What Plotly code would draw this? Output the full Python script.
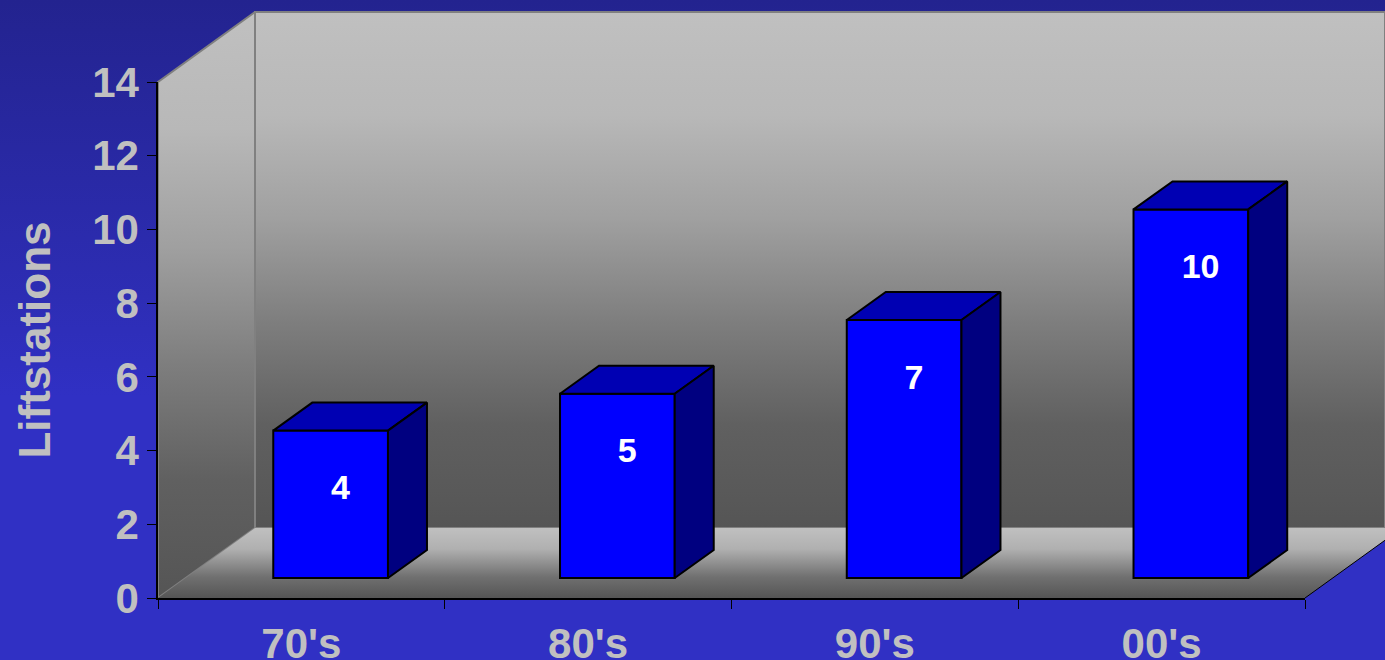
import plotly.graph_objects as go

# --- data ---
categories = ["70's", "80's", "90's", "00's"]
values = [4, 5, 7, 10]
y_ticks = [0, 2, 4, 6, 8, 10, 12, 14]
y_title = "Liftstations"

# --- page layout (pixels) ---
W, H = 1385, 660
PL, PR, PT, PB = 158, 1305, 82, 598     # plot box of the visible axes
UX = (PR - PL) / len(categories)        # px per category
UY = (PB - PT) / 14                     # px per value unit

def ux(px):
    return -0.5 + (px - PL) / UX

def uy(px):
    return (PB - px) / UY

XR = [ux(0), ux(W)]
YR = [uy(H), uy(0)]

# 3-D look in chart units
WALL_DX, WALL_DY = 97 / UX, 70 / UY
BAR_DX, BAR_DY = 39 / UX, 28 / UY
BAR_BASE = 20 / UY
BAR_OFFSET, BAR_WIDTH = -0.098, 0.40
LABEL_DX, LABEL_DOWN = 0.034, 60 / UY

FONT = "Liberation Sans"
GREY = "#C0C0C0"
LINE = "#000000"

WALL_SCALE = [[0, "#555555"], [0.2, "#606060"], [0.4, "#7E7E7E"], [0.6, "#A0A0A0"], [0.8, "#B8B8B8"], [1, "#C0C0C0"]]
FLOOR_SCALE = [[0, "#555555"], [0.3, "#707070"], [0.7, "#B0B0B0"], [1, "#C0C0C0"]]
PAGE_SCALE = [[0, "#3030C4"], [0.4, "#3030C4"], [0.55, "#2D2DB4"], [1, "#23238F"]]

def poly(xs, ys, axis, **kw):
    return go.Scatter(x=xs, y=ys, mode="lines", fill="toself", xaxis="x" + axis, yaxis="y" + axis,
                      hoverinfo="skip", showlegend=False, **kw)

def vgrad(scale):
    return dict(type="vertical", colorscale=scale)

fig = go.Figure()

# page background
fig.add_trace(poly([XR[0], XR[1], XR[1], XR[0], XR[0]], [YR[0], YR[0], YR[1], YR[1], YR[0]], "",
                   line=dict(width=0), fillgradient=vgrad(PAGE_SCALE)))

# back wall
wall_top = uy(12)
fig.add_trace(poly([ux(255), XR[1], XR[1], ux(255), ux(255)],
                   [uy(528), uy(528), wall_top, wall_top, uy(528)], "",
                   line=dict(width=2, color="#808080"), fillgradient=vgrad(WALL_SCALE)))
# left wall
fig.add_trace(poly([-0.5, -0.5 + WALL_DX, -0.5 + WALL_DX, -0.5, -0.5],
                   [0, WALL_DY, wall_top, 14, 0], "",
                   line=dict(width=2, color="#808080"), fillgradient=vgrad(WALL_SCALE)))
# floor
edge_y = (XR[1] - 3.5) * UX / (97 / 70) / UY
fig.add_trace(poly([-0.5, -0.5 + WALL_DX, XR[1], XR[1], 3.5, -0.5],
                   [0, WALL_DY, WALL_DY, edge_y, 0, 0], "",
                   line=dict(width=0), fillgradient=vgrad(FLOOR_SCALE)))
# floor's right edge
fig.add_trace(go.Scatter(x=[3.5, XR[1]], y=[0, edge_y], mode="lines",
                         line=dict(color=LINE, width=1), hoverinfo="skip", showlegend=False))

# front faces
xpos = list(range(len(categories)))
fig.add_trace(go.Bar(x=xpos, y=values, base=[BAR_BASE] * len(values), width=BAR_WIDTH, offset=BAR_OFFSET,
                     marker=dict(color="#0000FF", line=dict(color=LINE, width=2)),
                     xaxis="x2", yaxis="y2", hoverinfo="skip", showlegend=False))

# top and side faces, derived from the values
for x, v in zip(xpos, values):
    xl, xr = x + BAR_OFFSET, x + BAR_OFFSET + BAR_WIDTH
    yt, yb = BAR_BASE + v, BAR_BASE
    fig.add_trace(poly([xl, xl + BAR_DX, xr + BAR_DX, xr, xl],
                       [yt, yt + BAR_DY, yt + BAR_DY, yt, yt], "2",
                       fillcolor="#0000B3", line=dict(color=LINE, width=2)))
    fig.add_trace(poly([xr, xr + BAR_DX, xr + BAR_DX, xr, xr],
                       [yt, yt + BAR_DY, yb + BAR_DY, yb, yt], "2",
                       fillcolor="#000080", line=dict(color=LINE, width=2)))

# data labels
fig.add_trace(go.Scatter(x=[x + BAR_OFFSET + BAR_WIDTH / 2 + LABEL_DX for x in xpos],
                         y=[BAR_BASE + v - LABEL_DOWN for v in values],
                         text=[str(v) for v in values], mode="text", xaxis="x2", yaxis="y2",
                         textfont=dict(family=FONT, size=34, color="#FFFFFF", weight="bold"),
                         hoverinfo="skip", showlegend=False))

# visible axes
fig.add_trace(go.Scatter(x=categories, y=values, mode="markers", marker=dict(opacity=0),
                         xaxis="x3", yaxis="y3", hoverinfo="skip", showlegend=False))

hidden = dict(visible=False, fixedrange=True)
tickfont = dict(family=FONT, size=42, color=GREY, weight="bold")

fig.update_layout(
    width=W, height=H, margin=dict(l=0, r=0, t=0, b=0, autoexpand=False), showlegend=False,
    paper_bgcolor="#3030C4", plot_bgcolor="rgba(0,0,0,0)",
    xaxis=dict(domain=[0, 1], range=XR, **hidden),
    yaxis=dict(domain=[0, 1], range=YR, **hidden),
    xaxis2=dict(domain=[0, 1], range=XR, anchor="y2", **hidden),
    yaxis2=dict(domain=[0, 1], range=YR, anchor="x2", **hidden),
    xaxis3=dict(domain=[PL / W, PR / W], range=[-0.5, 3.5], type="category", categoryarray=categories,
                categoryorder="array", tickson="boundaries", anchor="y3", automargin=False,
                ticks="outside", ticklen=9, tickwidth=1, tickcolor=LINE, showline=True, linecolor=LINE,
                linewidth=1.5, showgrid=False, zeroline=False, tickfont=tickfont, fixedrange=True,
                ticklabelstandoff=8),
    yaxis3=dict(domain=[1 - PB / H, 1 - PT / H], range=[0, 14], tickmode="array", tickvals=y_ticks,
                anchor="x3", automargin=False, ticks="outside", ticklen=9, tickwidth=1, tickcolor=LINE,
                showline=True, linecolor=LINE, linewidth=1.5, showgrid=False, zeroline=False,
                tickfont=tickfont, fixedrange=True,
                title=dict(text=y_title, font=dict(family=FONT, size=44, color=GREY, weight="bold"), standoff=28)),
)

fig.write_html("out.html", config=dict(displayModeBar=False),
               post_script="document.body.style.margin='0';document.body.style.overflow='hidden';")
